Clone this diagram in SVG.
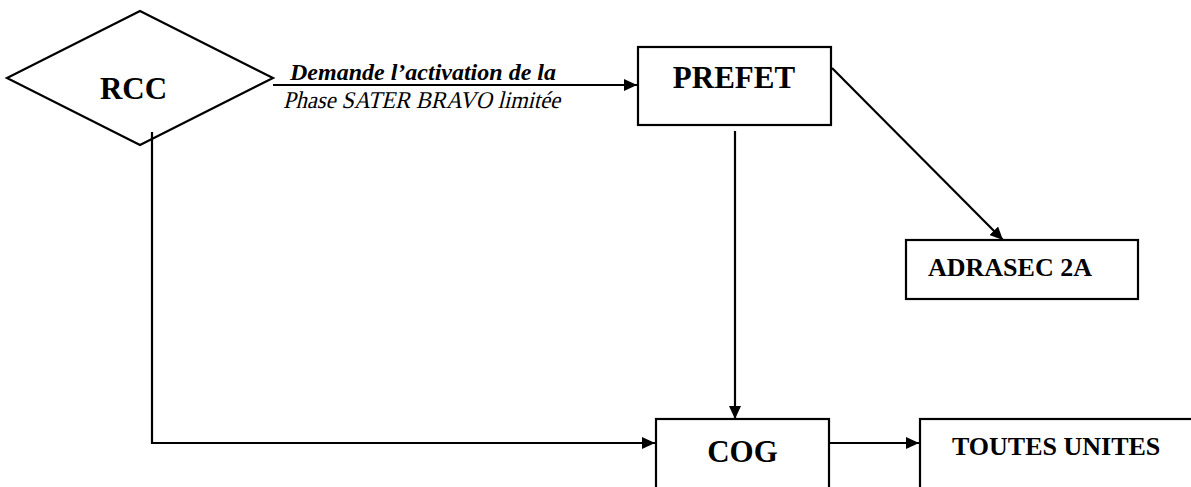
<svg xmlns="http://www.w3.org/2000/svg" width="1191" height="487" viewBox="0 0 1191 487">
<style>
.shape{fill:#fff;stroke:#000;stroke-width:2.2}
.lbl{font-family:"Liberation Serif","Times New Roman",serif;font-weight:bold;fill:#000}
.big{font-size:31px}
.mid{font-size:26px}
.edge{fill:none;stroke:#000;stroke-width:2.2}
.note{font-family:"Liberation Serif","Times New Roman",serif;font-size:24px;fill:#000}
</style>
<defs>
<marker id="ah" markerUnits="userSpaceOnUse" markerWidth="14" markerHeight="12" refX="13" refY="6" orient="auto">
<path d="M0,0 L13,6 L0,12 Z" fill="#000"/>
</marker>
</defs>
<rect width="1191" height="487" fill="#fff"/>
<g id="connectors">
<line class="edge" x1="273" y1="85" x2="637" y2="85" marker-end="url(#ah)"/>
<line class="edge" x1="832" y1="68" x2="1003" y2="240" marker-end="url(#ah)"/>
<line class="edge" x1="735" y1="131" x2="735" y2="419" marker-end="url(#ah)"/>
<polyline class="edge" points="152,132 152,443 655,443" marker-end="url(#ah)"/>
<line class="edge" x1="824" y1="443" x2="919" y2="443" marker-end="url(#ah)"/>
<text class="note" x="290" y="80" font-weight="bold" font-style="italic">Demande l’activation de la</text>
<text class="note" transform="translate(283,108) skewX(-14)" x="0" y="0" textLength="277" lengthAdjust="spacingAndGlyphs">Phase SATER BRAVO limitée</text>
</g>
<g id="rcc">
<polygon points="140,11 273,78 140,145 7,78" fill="none" stroke="#000" stroke-width="2.2"/>
<text class="lbl big" x="133.5" y="99" text-anchor="middle">RCC</text>
</g>
<g id="prefet">
<rect class="shape" x="638" y="47" width="193" height="78"/>
<text class="lbl big" x="734" y="88" text-anchor="middle">PREFET</text>
</g>
<g id="adrasec">
<rect class="shape" x="906" y="240" width="232" height="59"/>
<text class="lbl mid" x="928" y="276">ADRASEC 2A</text>
</g>
<g id="cog">
<rect class="shape" x="656" y="419" width="173" height="90"/>
<text class="lbl big" x="742.5" y="462" text-anchor="middle">COG</text>
</g>
<g id="toutes">
<rect class="shape" x="920" y="419" width="290" height="90"/>
<text class="lbl mid" x="952" y="455">TOUTES UNITES</text>
</g>
</svg>
